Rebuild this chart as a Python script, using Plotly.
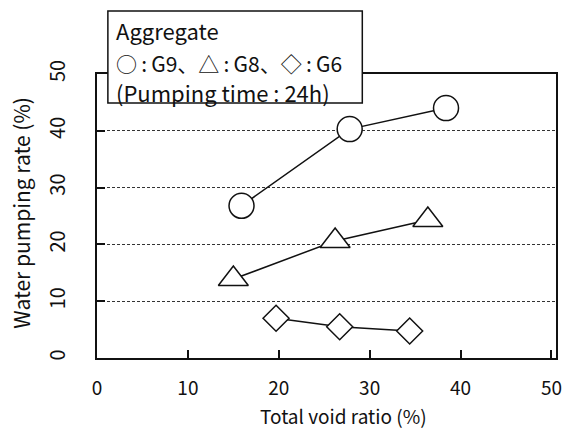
import plotly.graph_objects as go

# Data
x_g9 = [15.9, 27.8, 38.4]
y_g9 = [26.8, 40.3, 44.0]
x_g8 = [15.0, 26.2, 36.4]
y_g8 = [13.9, 20.6, 24.3]
x_g6 = [19.7, 26.7, 34.4]
y_g6 = [7.0, 5.5, 4.75]

x_ticks = [0, 10, 20, 30, 40, 50]
y_ticks = [0, 10, 20, 30, 40, 50]

FONT = "Noto Sans CJK JP"
INK = "#111111"

fig = go.Figure()

def add_series(xs, ys, symbol, size):
    fig.add_trace(go.Scatter(
        x=xs, y=ys, mode="lines+markers",
        line=dict(color=INK, width=1.5),
        marker=dict(symbol=symbol, size=size, color="white",
                    line=dict(color=INK, width=1.5)),
        showlegend=False, cliponaxis=False,
    ))

add_series(x_g9, y_g9, "circle", 25)
add_series(x_g8, y_g8, "triangle-up", 26)
add_series(x_g6, y_g6, "diamond", 20)

fig.update_layout(
    width=573, height=428,
    margin=dict(l=97, r=11, t=74, b=70),
    paper_bgcolor="white", plot_bgcolor="white",
    font=dict(family=FONT, color=INK, size=20),
    showlegend=False,
)

fig.update_xaxes(
    range=[0, 50.5], tickvals=x_ticks, ticktext=[str(v) for v in x_ticks],
    showline=True, linecolor=INK, linewidth=2, mirror=True,
    ticks="inside", ticklen=8, tickwidth=2, tickcolor=INK,
    showgrid=False, zeroline=False,
    tickfont=dict(family=FONT, size=19, color=INK),
    ticklabelstandoff=12,
)
fig.update_yaxes(
    range=[0, 50], tickvals=y_ticks, ticktext=[str(v) for v in y_ticks],
    showline=True, linecolor=INK, linewidth=2, mirror=True,
    ticks="inside", ticklen=8, tickwidth=2, tickcolor=INK,
    showgrid=True, gridcolor="#333333", gridwidth=1, griddash="3px,2px",
    zeroline=False, tickangle=-90,
    tickfont=dict(family=FONT, size=20, color=INK),
    ticklabelstandoff=22,
)

# Legend box
fig.add_shape(type="rect", xref="paper", yref="paper",
              x0=0.0237, x1=0.578, y0=0.898, y1=1.222,
              line=dict(color=INK, width=1.5), fillcolor="white", layer="above")

legend_lines = ["Aggregate",
                "○\u2009:\u2009G9、△\u2009:\u2009G8、◇\u2009:\u2009G6",
                "(Pumping time : 24h)"]
legend_y = [1.155, 1.038, 0.938]
legend_size = [22, 21, 22]
for txt, yy, sz in zip(legend_lines, legend_y, legend_size):
    fig.add_annotation(text=txt, xref="paper", yref="paper", x=0.036, y=yy,
                       xanchor="left", yanchor="middle", showarrow=False,
                       font=dict(family=FONT, size=sz, color=INK))

# Axis titles
fig.add_annotation(text="Total void ratio (%)", xref="paper", yref="paper",
                   x=0.538, y=-0.204, showarrow=False,
                   xanchor="center", yanchor="middle",
                   font=dict(family=FONT, size=19, color=INK))
fig.add_annotation(text="Water pumping rate (%)", xref="paper", yref="paper",
                   x=-0.166, y=0.511, textangle=-90, showarrow=False,
                   xanchor="center", yanchor="middle",
                   font=dict(family=FONT, size=21, color=INK))

fig.write_html("out.html")
